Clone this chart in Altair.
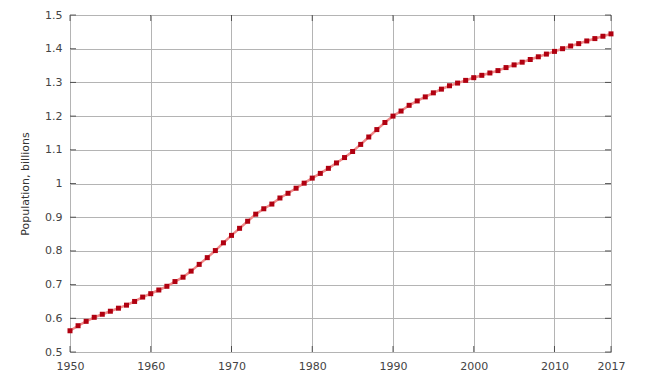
import altair as alt
import pandas as pd

years = list(range(1950, 2018))
population = [
    0.563, 0.578, 0.591, 0.603, 0.612, 0.621, 0.630, 0.639, 0.650, 0.663,
    0.673, 0.684, 0.695, 0.709, 0.722, 0.740, 0.760, 0.780, 0.801, 0.824,
    0.846, 0.867, 0.888, 0.909, 0.925, 0.939, 0.957, 0.971, 0.986, 1.001,
    1.016, 1.030, 1.045, 1.061, 1.077, 1.095, 1.116, 1.138, 1.160, 1.181,
    1.200, 1.215, 1.232, 1.245, 1.257, 1.269, 1.280, 1.290, 1.298, 1.306,
    1.314, 1.321, 1.328, 1.335, 1.344, 1.352, 1.360, 1.368, 1.376, 1.384,
    1.392, 1.400, 1.408, 1.415, 1.423, 1.430, 1.437, 1.444,
]
x_ticks = [1950, 1960, 1970, 1980, 1990, 2000, 2010, 2017]
y_ticks = [0.5, 0.6, 0.7, 0.8, 0.9, 1.0, 1.1, 1.2, 1.3, 1.4, 1.5]

df = pd.DataFrame({"year": years, "pop": population})
xt = pd.DataFrame({"year": x_ticks})
yt = pd.DataFrame({"pop": y_ticks})

W, H = 541, 337
FONT = "DejaVu Sans"

xscale = alt.Scale(domain=[1950, 2017], nice=False, zero=False)
yscale = alt.Scale(domain=[0.5, 1.5], nice=False, zero=False)

x_axis = alt.Axis(values=x_ticks, format="d", grid=True, gridColor="#b4b4b4",
                  gridWidth=1, ticks=False, domain=False, labelFont=FONT,
                  labelFontSize=11, labelColor="#444444", labelPadding=8,
                  labelFlush=False, labelOverlap=False)
y_axis = alt.Axis(values=y_ticks, format="~g", grid=True, gridColor="#b4b4b4",
                  gridWidth=1, ticks=False, domain=False, labelFont=FONT,
                  labelFontSize=11, labelColor="#444444", labelPadding=8,
                  titleFont=FONT, titleFontSize=11, titleFontWeight="normal",
                  titleColor="#333333", titlePadding=14, labelFlush=False,
                  labelOverlap=False)

xq = alt.X("year:Q", scale=xscale, title=None, axis=x_axis)
yq = alt.Y("pop:Q", scale=yscale, title="Population, billions", axis=y_axis)

line = alt.Chart(df).mark_line(color="#f08a8a", strokeWidth=2.5).encode(x=xq, y=yq)
pts = alt.Chart(df).mark_square(color="#b00010", size=25, opacity=1).encode(x=xq, y=yq)

tick_bottom = alt.Chart(xt).mark_tick(color="#222222", size=6, thickness=1, orient="vertical", yOffset=-3).encode(
    x=xq, y=alt.value(H))
tick_top = alt.Chart(xt).mark_tick(color="#222222", size=6, thickness=1, orient="vertical", yOffset=3).encode(
    x=xq, y=alt.value(0))
tick_left = alt.Chart(yt).mark_tick(color="#222222", size=6, thickness=1, orient="horizontal", xOffset=3).encode(
    y=yq, x=alt.value(0))
tick_right = alt.Chart(yt).mark_tick(color="#222222", size=6, thickness=1, orient="horizontal", xOffset=-3).encode(
    y=yq, x=alt.value(W))

chart = alt.layer(line, tick_bottom, tick_top, tick_left, tick_right, pts).properties(
    width=W, height=H,
    autosize=alt.AutoSizeParams(type="none"),
    padding={"left": 62, "top": 7, "right": 29, "bottom": 26},
).configure_view(stroke="#111111", strokeWidth=1.5).configure(background="white")

chart.save("out.html", embed_options={"renderer": "svg", "actions": False})
